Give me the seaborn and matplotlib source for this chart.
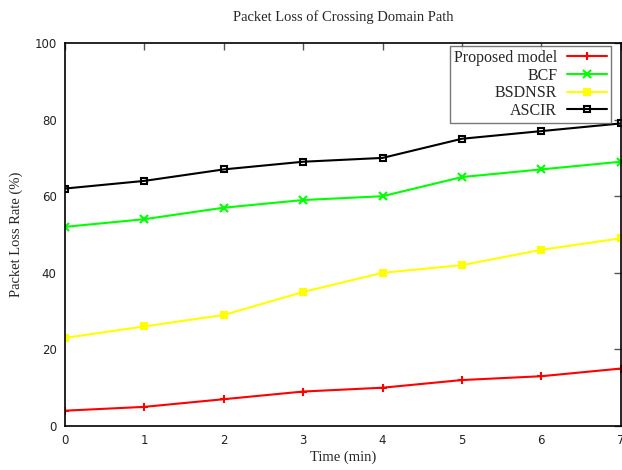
import matplotlib
matplotlib.use("Agg")
import matplotlib.pyplot as plt
import seaborn as sns
import pandas as pd

time = [0, 1, 2, 3, 4, 5, 6, 7]
proposed = [4, 5, 7, 9, 10, 12, 13, 15]
bcf = [52, 54, 57, 59, 60, 65, 67, 69]
bsdnsr = [23, 26, 29, 35, 40, 42, 46, 49]
ascir = [62, 64, 67, 69, 70, 75, 77, 79]
series_names = ["Proposed model", "BCF", "BSDNSR", "ASCIR"]
colors = ["#ff0000", "#00ff00", "#ffff00", "#000000"]
markers = ["+", "x", "s", "s"]

sns.set_theme(style="white")
plt.rcParams['font.family'] = ['Liberation Serif', 'DejaVu Serif']

fig = plt.figure(figsize=(6.22, 4.70), dpi=100)
ax = fig.add_axes([0.1045, 0.0936, 0.8935, 0.8149])

rows = []
for name, vals in zip(series_names, [proposed, bcf, bsdnsr, ascir]):
    for t, v in zip(time, vals):
        rows.append({"Time": t, "Value": v, "Series": name})
df = pd.DataFrame(rows)

for name, col, mk in zip(series_names, colors, markers):
    sub = df[df["Series"] == name]
    kw = dict(marker=mk, markersize=6, markeredgewidth=1.5)
    if name == "ASCIR":
        kw.update(markerfacecolor="none", markeredgecolor=col, markersize=5)
    elif name == "BSDNSR":
        kw.update(markerfacecolor=col, markeredgecolor=col, markersize=4)
    else:
        kw.update(markeredgecolor=col)
    sns.lineplot(data=sub, x="Time", y="Value", color=col, linewidth=1.5,
                 label=name, ax=ax, **kw)

ax.set_xlim(0, 7)
ax.set_ylim(0, 100)
ax.set_xticks(time)
ax.set_yticks([0, 20, 40, 60, 80, 100])
for lab in ax.get_xticklabels() + ax.get_yticklabels():
    lab.set_fontfamily('DejaVu Sans')
    lab.set_fontsize(8.5)
    lab.set_color('#222222')
ax.tick_params(direction='in', top=True, right=True, length=5, width=1,
               color='#555555', pad=6)
for s in ax.spines.values():
    s.set_color('#000000')
    s.set_linewidth(1.2)

ax.set_xlabel("Time (min)", fontsize=10.5, labelpad=2)
ax.set_ylabel("Packet Loss Rate (%)", fontsize=10.5, labelpad=8)
ax.set_title("Packet Loss of Crossing Domain Path", fontsize=10.5, pad=16)

leg = ax.legend(loc='upper right', bbox_to_anchor=(0.982, 0.992),
                markerfirst=False, fontsize=11.5,
                frameon=True, fancybox=False, edgecolor='#555555',
                borderaxespad=0.0, handlelength=2.5, labelspacing=0.1,
                borderpad=0.25, handletextpad=0.6)
leg.get_frame().set_linewidth(1.0)
for t in leg.get_texts():
    t.set_ha('right')
leg._legend_box.align = "right"

fig.savefig("out.png", dpi=100)
